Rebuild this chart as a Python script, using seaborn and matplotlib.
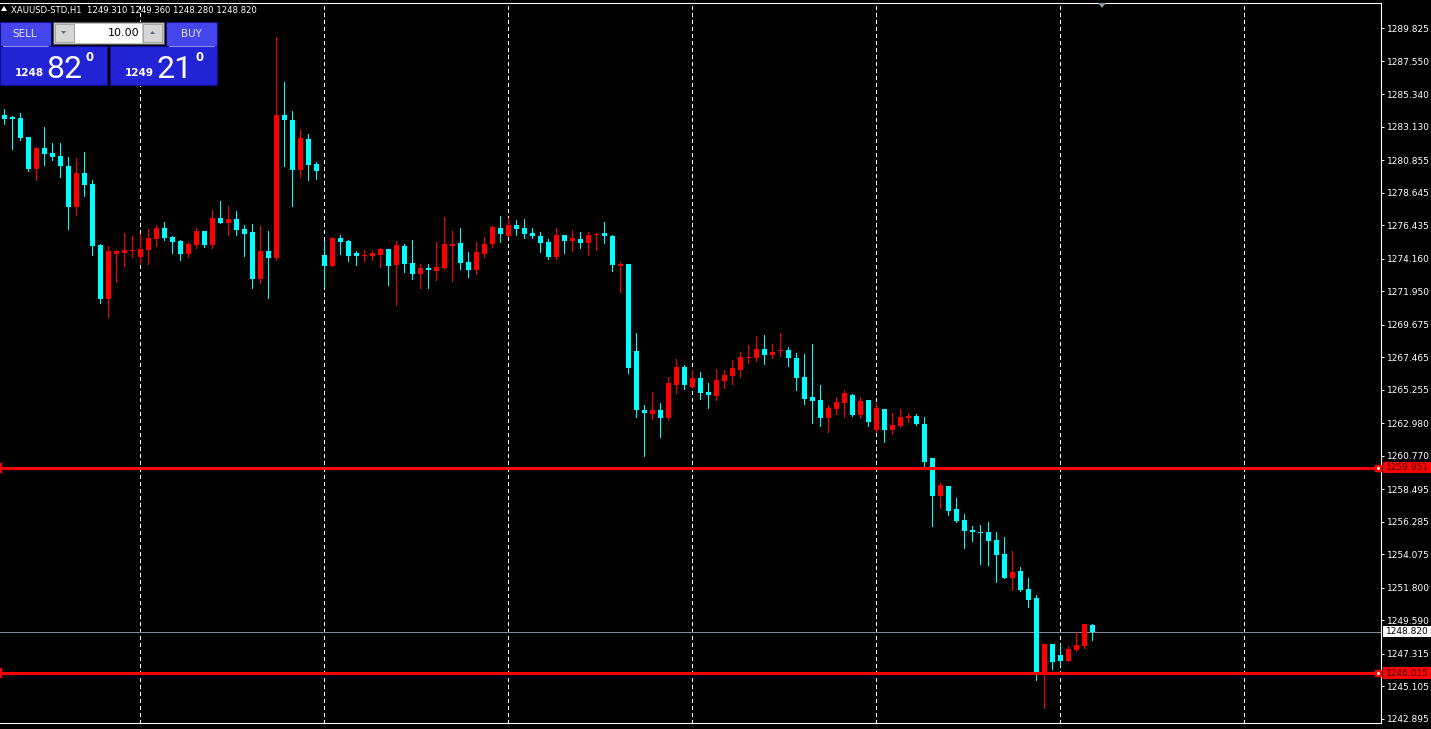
"""
XAUUSD-STD H1 candlestick chart, MetaTrader look.
"""
import matplotlib

matplotlib.use("Agg")

import matplotlib.pyplot as plt
import numpy as np
import pandas as pd
import seaborn as sns
from matplotlib.patches import Polygon, Rectangle

# ============================================================
# Data
# ============================================================
opens = [
    1283.92, 1283.78, 1283.71, 1282.42, 1280.25, 1281.68, 1281.34, 1281.13, 1280.45, 1277.67,
    1279.98, 1279.23, 1275.09, 1271.42, 1274.48, 1274.54, 1274.68, 1274.27, 1274.75, 1275.50,
    1276.24, 1275.63, 1275.36, 1274.48, 1275.09, 1276.04, 1275.09, 1276.92, 1276.58, 1276.85,
    1276.17, 1275.97, 1272.78, 1274.68, 1274.20, 1283.92, 1283.58, 1280.18, 1282.29, 1280.59,
    1274.41, 1273.66, 1275.56, 1275.36, 1274.54, 1274.34, 1274.34, 1274.41, 1274.82, 1273.73,
    1275.02, 1273.86, 1273.12, 1273.53, 1273.32, 1273.53, 1275.02, 1275.22, 1273.93, 1273.39,
    1274.48, 1275.16, 1276.24, 1275.70, 1276.45, 1276.24, 1275.90, 1275.70, 1275.29, 1274.27,
    1275.77, 1275.36, 1275.50, 1275.22, 1275.77, 1275.90, 1275.70, 1273.66, 1273.80, 1267.89,
    1263.88, 1263.61, 1263.88, 1263.34, 1265.58, 1266.80, 1265.44, 1266.06, 1265.10, 1264.83,
    1265.85, 1266.19, 1266.60, 1267.41, 1267.41, 1268.02, 1267.62, 1267.89, 1267.96, 1267.41,
    1266.12, 1264.76, 1264.56, 1263.34, 1263.95, 1264.36, 1264.90, 1263.54, 1264.56, 1262.52,
    1263.95, 1262.52, 1262.79, 1263.34, 1263.47, 1262.94, 1260.62, 1258.04, 1258.72, 1257.16,
    1256.41, 1255.73, 1255.60, 1255.60, 1255.05, 1254.10, 1252.47, 1252.95, 1251.73, 1251.11,
    1246.02, 1247.99, 1247.24, 1246.83, 1247.58, 1247.85, 1249.31,
]
highs = [
    1284.32, 1283.87, 1284.05, 1282.42, 1281.76, 1283.10, 1282.02, 1282.02, 1281.06, 1281.00,
    1281.40, 1279.50, 1275.16, 1275.02, 1274.75, 1275.90, 1275.70, 1275.86, 1276.18, 1276.45,
    1276.65, 1275.70, 1275.43, 1275.29, 1276.24, 1276.04, 1277.46, 1278.08, 1277.74, 1277.40,
    1276.45, 1276.51, 1276.38, 1276.04, 1289.21, 1286.16, 1284.19, 1282.90, 1282.63, 1280.72,
    1275.36, 1275.63, 1275.77, 1275.43, 1274.68, 1274.75, 1274.68, 1274.88, 1274.82, 1275.36,
    1275.16, 1275.43, 1273.80, 1273.80, 1275.29, 1276.99, 1276.04, 1276.24, 1274.61, 1275.29,
    1275.63, 1276.38, 1277.06, 1276.92, 1276.79, 1276.85, 1276.24, 1275.97, 1275.50, 1276.24,
    1275.77, 1276.11, 1275.97, 1275.97, 1275.90, 1276.65, 1275.77, 1273.93, 1273.80, 1269.11,
    1264.22, 1265.10, 1264.36, 1266.12, 1267.35, 1266.94, 1266.60, 1266.46, 1265.72, 1266.67,
    1266.60, 1267.28, 1267.82, 1268.30, 1268.91, 1268.98, 1268.36, 1269.11, 1268.16, 1267.75,
    1267.68, 1268.36, 1265.58, 1264.22, 1264.76, 1265.24, 1264.97, 1264.76, 1264.56, 1264.36,
    1263.95, 1263.68, 1263.95, 1263.68, 1263.61, 1263.41, 1260.62, 1258.92, 1258.72, 1257.90,
    1256.82, 1256.00, 1256.07, 1256.28, 1255.60, 1255.26, 1254.31, 1253.22, 1252.47, 1251.31,
    1247.99, 1247.99, 1247.92, 1247.85, 1248.80, 1249.35, 1249.36,
]
lows = [
    1283.33, 1281.61, 1282.22, 1280.11, 1279.50, 1280.52, 1280.86, 1279.71, 1276.18, 1277.13,
    1278.42, 1274.41, 1271.15, 1270.20, 1272.58, 1273.66, 1274.27, 1273.82, 1273.80, 1275.02,
    1275.43, 1274.54, 1274.07, 1274.27, 1274.88, 1274.95, 1274.88, 1276.58, 1275.77, 1275.77,
    1274.34, 1272.17, 1272.51, 1271.49, 1274.07, 1280.45, 1277.74, 1279.71, 1279.50, 1279.57,
    1272.26, 1273.66, 1274.48, 1274.00, 1273.73, 1274.00, 1274.07, 1273.59, 1272.37, 1271.01,
    1273.25, 1272.78, 1272.17, 1272.17, 1272.71, 1273.46, 1272.64, 1273.46, 1272.92, 1273.12,
    1274.27, 1274.95, 1275.29, 1275.70, 1275.77, 1275.56, 1275.56, 1274.61, 1274.14, 1274.14,
    1274.54, 1274.68, 1274.88, 1274.41, 1274.75, 1275.22, 1273.32, 1271.90, 1266.39, 1263.41,
    1260.76, 1263.27, 1262.05, 1263.20, 1265.04, 1265.31, 1265.44, 1264.63, 1264.02, 1264.56,
    1265.38, 1265.65, 1266.12, 1267.08, 1267.21, 1267.01, 1267.41, 1267.55, 1266.87, 1265.24,
    1264.29, 1263.00, 1262.79, 1262.39, 1263.61, 1263.41, 1263.47, 1263.34, 1262.79, 1262.39,
    1261.71, 1262.25, 1262.73, 1263.07, 1262.86, 1260.08, 1256.00, 1257.23, 1256.75, 1256.28,
    1254.51, 1254.98, 1253.42, 1253.35, 1252.20, 1252.47, 1251.66, 1251.59, 1250.50, 1245.54,
    1243.64, 1246.29, 1246.56, 1246.83, 1247.51, 1247.72, 1248.28,
]
closes = [
    1283.64, 1283.64, 1282.35, 1280.25, 1281.70, 1281.27, 1281.06, 1280.45, 1277.67, 1279.98,
    1279.16, 1275.02, 1271.42, 1274.68, 1274.68, 1274.75, 1274.75, 1274.82, 1275.56, 1276.24,
    1275.56, 1275.29, 1274.48, 1275.16, 1276.04, 1275.09, 1276.92, 1276.58, 1276.85, 1276.11,
    1275.83, 1272.78, 1274.68, 1274.20, 1283.92, 1283.58, 1280.18, 1282.35, 1280.52, 1280.11,
    1273.66, 1275.56, 1275.29, 1274.34, 1274.34, 1274.41, 1274.54, 1274.82, 1273.66, 1275.09,
    1273.80, 1273.12, 1273.53, 1273.39, 1273.59, 1275.16, 1275.16, 1273.86, 1273.39, 1274.61,
    1275.16, 1276.31, 1275.83, 1276.45, 1276.17, 1275.83, 1275.70, 1275.22, 1274.27, 1275.77,
    1275.36, 1275.56, 1275.22, 1275.77, 1275.83, 1275.70, 1273.73, 1273.80, 1266.73, 1263.88,
    1263.68, 1263.88, 1263.34, 1265.72, 1266.80, 1265.58, 1266.06, 1265.04, 1264.90, 1265.92,
    1266.26, 1266.73, 1267.48, 1267.48, 1268.02, 1267.62, 1267.82, 1267.96, 1267.41, 1266.06,
    1264.63, 1264.49, 1263.34, 1264.02, 1264.42, 1265.04, 1263.54, 1264.49, 1263.07, 1264.02,
    1262.52, 1262.86, 1263.41, 1263.47, 1262.93, 1260.35, 1258.04, 1258.79, 1257.02, 1256.34,
    1255.66, 1255.60, 1255.53, 1254.98, 1254.03, 1252.47, 1252.88, 1251.66, 1250.98, 1246.02,
    1247.99, 1246.77, 1246.83, 1247.65, 1247.92, 1249.35, 1248.82,
]

# 右侧价格刻度
price_ticks = [
    1289.825, 1287.550, 1285.340, 1283.130, 1280.855, 1278.645, 1276.435, 1274.160,
    1271.950, 1269.675, 1267.465, 1265.255, 1262.980, 1260.770, 1258.495, 1256.285,
    1254.075, 1251.800, 1249.590, 1247.315, 1245.105, 1242.895,
]
day_starts = [17, 40, 63, 86, 109, 132, 155]   # bar index of day separators
level_lines = [1259.951, 1246.015]              # horizontal red levels
bid_price = 1248.820
header = "XAUUSD-STD,H1  1249.310 1249.360 1248.280 1248.820"
sell_price = ("1248", "82", "0")
buy_price = ("1249", "21", "0")
lot_size = "10.00"

# ============================================================
# Style
# ============================================================
W, H = 1431, 729
UP_COLOR = "#ff0000"
DOWN_COLOR = "#00ffff"

sns.set_theme(style="dark", rc={
    "axes.facecolor": "black",
    "figure.facecolor": "black",
    "axes.grid": False,
})
plt.rcParams["font.family"] = ["DejaVu Sans"]

df = pd.DataFrame({"open": opens, "high": highs, "low": lows, "close": closes})
df["bar"] = np.arange(len(df))
df["up"] = df["close"] >= df["open"]
df["color"] = np.where(df["up"], UP_COLOR, DOWN_COLOR)
df["body_lo"] = df[["open", "close"]].min(axis=1)
df["body_h"] = (df["close"] - df["open"]).abs().clip(lower=0.07)

fig = plt.figure(figsize=(W / 100, H / 100), dpi=100)
ax = fig.add_axes([0, 6 / H, 1381 / W, 720 / H])
ax.set_xlim(-0.54, 172.08)
ax.set_ylim(1242.621, 1291.523)

# day separators
for d in day_starts:
    ax.axvline(d, color="white", lw=0.6, ls=(0, (4, 4)), zorder=1, antialiased=False)

# candles
ax.vlines(df["bar"], df["low"], df["high"], colors=df["color"], lw=0.6, zorder=3,
          antialiased=False)
ax.bar(df["bar"], df["body_h"], bottom=df["body_lo"], width=0.68,
       color=df["color"], linewidth=0, zorder=4, antialiased=False)

# levels
ytrans = ax.get_yaxis_transform()
for lv in level_lines:
    ax.axhline(lv, color=UP_COLOR, lw=1.8, zorder=5, antialiased=False)
    ax.plot([0.0005], [lv], marker="|", ms=7, mew=1.5, color=UP_COLOR,
            transform=ytrans, zorder=6, clip_on=False)
    ax.plot([0.9975], [lv], marker="s", ms=5, color=UP_COLOR,
            transform=ytrans, zorder=6, clip_on=False)
    ax.plot([0.9975], [lv], marker="s", ms=1, color="white",
            transform=ytrans, zorder=7, clip_on=False)
    ax.add_patch(Rectangle((1.0015, lv - 0.38), 0.0345, 0.76, transform=ytrans,
                           facecolor=UP_COLOR, edgecolor="none", clip_on=False, zorder=8))
    ax.text(1.0035, lv, f"{lv:.3f}", transform=ytrans, color="#400000",
            fontsize=6.5, va="center", ha="left", zorder=9, clip_on=False)

ax.axhline(bid_price, color="#778899", lw=0.6, zorder=2, antialiased=False)
ax.add_patch(Rectangle((1.0015, bid_price - 0.38), 0.0345, 0.76, transform=ytrans,
                       facecolor="white", edgecolor="none", clip_on=False, zorder=8))
ax.text(1.0035, bid_price, f"{bid_price:.3f}", transform=ytrans, color="black",
        fontsize=6.5, va="center", ha="left", zorder=9, clip_on=False)

# axes frame and ticks
ax.spines["left"].set_visible(False)
for side in ["top", "right", "bottom"]:
    ax.spines[side].set_color("white")
    ax.spines[side].set_linewidth(0.8)
ax.yaxis.tick_right()
ax.set_yticks(price_ticks)
ax.set_yticklabels([f"{t:.3f}" for t in price_ticks])
ax.tick_params(axis="y", colors="white", labelsize=6.5, length=2, width=0.7,
               pad=2, direction="out")
ax.set_xticks(np.arange(7, 172, 8))
ax.set_xticklabels([])
ax.tick_params(axis="x", colors="white", length=3, width=0.7, direction="out")

# ============================================================
# Overlay in pixel coordinates: header and one-click panel
# ============================================================
ui = fig.add_axes([0, 0, 1, 1], zorder=10)
ui.set_xlim(0, W)
ui.set_ylim(H, 0)
ui.axis("off")
ui.patch.set_alpha(0)

ui.add_patch(Polygon([[1098, 3], [1106, 3], [1102, 8]], closed=True,
                     facecolor="#8a96a4", edgecolor="none"))
ui.add_patch(Polygon([[1, 11], [7, 11], [4, 6]], closed=True,
                     facecolor="white", edgecolor="none"))
ui.text(11, 10, header, color="white", fontsize=6.1, va="center", ha="left")

BTN = "#4545ee"
BOX = "#2323d6"
EDGE = "#10108a"
# sell / buy buttons
for x0, label in [(0, "SELL"), (166, "BUY")]:
    ui.add_patch(Rectangle((x0, 22), 51, 24, facecolor=BTN, edgecolor=EDGE, lw=0.8))
    ui.plot([x0 + 3, x0 + 48], [45.5, 45.5], color="#8c8cff", lw=0.8)
    ui.text(x0 + 25, 34, label, color="#e4e4ff", fontsize=7.5, ha="center", va="center")

# lot spinner
ui.add_patch(Rectangle((53, 22), 111, 22, facecolor="#c8c8c8", edgecolor="#505050", lw=0.8))
ui.add_patch(Rectangle((75, 23.5), 67, 19, facecolor="white", edgecolor="none"))
ui.add_patch(Rectangle((55, 24), 19, 18, facecolor="#d6d6d6", edgecolor="#a0a0a0", lw=0.6))
ui.add_patch(Rectangle((143, 24), 19, 18, facecolor="#d6d6d6", edgecolor="#a0a0a0", lw=0.6))
ui.add_patch(Polygon([[61, 31], [66, 31], [63.5, 34]], closed=True,
                     facecolor="#5a6a8a", edgecolor="none"))
ui.add_patch(Polygon([[150, 34], [155, 34], [152.5, 31]], closed=True,
                     facecolor="#5a6a8a", edgecolor="none"))
ui.text(139, 33, lot_size, color="black", fontsize=8, ha="right", va="center")

# price boxes
for x0, (big, pips, frac) in [(0, sell_price), (110, buy_price)]:
    ui.add_patch(Rectangle((x0, 46), 107, 39, facecolor=BOX, edgecolor=EDGE, lw=0.8))
    ui.text(x0 + 15, 75.5, big, color="white", fontsize=7.5, fontweight="bold",
            ha="left", va="baseline")
    ui.text(x0 + 46, 77.5, pips, color="white", fontsize=23, family=["Roboto", "DejaVu Sans"],
            ha="left", va="baseline")
    ui.text(x0 + 86, 61, frac, color="white", fontsize=8.5, fontweight="bold",
            ha="left", va="baseline")

fig.savefig("out.png", dpi=100, facecolor="black")
